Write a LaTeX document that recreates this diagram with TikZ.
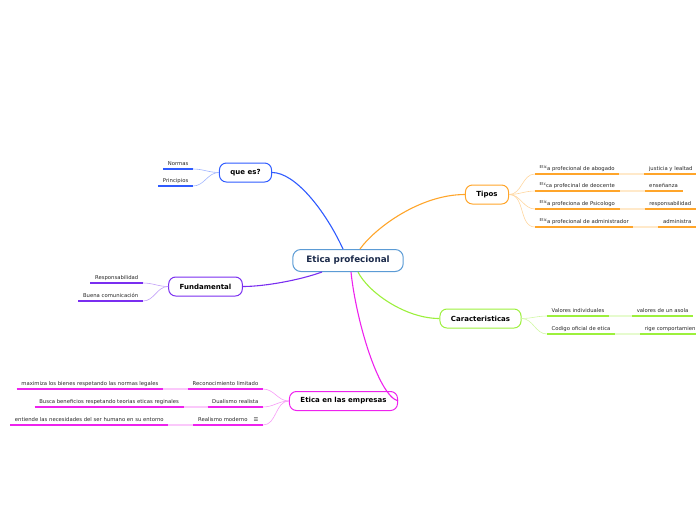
\documentclass[tikz,border=0pt]{standalone}
\usepackage{fontspec}
\setmainfont{DejaVu Sans}
\usepackage{xcolor}
\usetikzlibrary{positioning}

\definecolor{rootline}{HTML}{5B9BD5}
\definecolor{rootink}{HTML}{1B2A4A}
\definecolor{brblue}{HTML}{2F5BFF}
\definecolor{brpurple}{HTML}{7A2EF0}
\definecolor{brorange}{HTML}{FFA52A}
\definecolor{brgreen}{HTML}{9CF03C}
\definecolor{brmagenta}{HTML}{EE22EE}

\newcommand{\upfrag}[1]{\raisebox{1.8pt}{\fontsize{4}{4.5}\selectfont #1}}

\begin{document}
\begin{tikzpicture}[x=1pt, y=-1pt,
    rootbox/.style={rectangle, draw=rootline, line width=1pt, rounded corners=8pt,
                    fill=white, minimum height=22pt, inner xsep=13.5pt,
                    font=\fontsize{8.8}{10}\selectfont\bfseries, text=rootink},
    topic/.style={rectangle, draw=#1, line width=1pt, rounded corners=7pt,
                  fill=white, minimum height=19pt, inner xsep=11pt,
                  font=\fontsize{7}{8}\selectfont\bfseries, text=black},
    leaf/.style={inner xsep=4.5pt, inner ysep=2pt, text height=4pt, text depth=1.5pt,
                 font=\fontsize{5.3}{6.2}\selectfont, text=black!85},
    branch/.style={#1, line width=1.1pt},
    twig/.style={#1!45, line width=0.6pt},
    uline/.style={#1, line width=1.3pt},
    bridge/.style={#1!25, line width=1.3pt}
]
\useasboundingbox (0,0) rectangle (696,520);
\clip (0,0) rectangle (696,520);

% main topics
\node[rootbox] (root) at (348,260.5) {Etica profecional};
\node[topic=brblue]    (qes)  at (245.5,172.5) {que es?};
\node[topic=brpurple]  (fund) at (205.5,286.5) {Fundamental};
\node[topic=brorange]  (tip)  at (487,194.5)   {Tipos};
\node[topic=brgreen]   (car)  at (480.5,318.5) {Caracteristicas};
\node[topic=brmagenta] (emp)  at (343.5,401)   {Etica en las empresas};

% que es? / Fundamental
\node[leaf, anchor=south east] (norm)  at (193,169) {Normas};
\node[leaf, anchor=south east] (prin)  at (193,186) {Principios};
\node[leaf, anchor=south east] (resp)  at (143,283) {Responsabilidad};
\node[leaf, anchor=south east] (buena) at (143,301) {Buena comunicación};

% Tipos
\node[leaf, anchor=south west] (abog) at (535,174) {\upfrag{Etic}a profecional de abogado};
\node[leaf, anchor=south west] (doce) at (535,191) {\upfrag{Etc}ca profecinal de deocente};
\node[leaf, anchor=south west] (psic) at (535,209) {\upfrag{Etic}a profeciona de Psicologo};
\node[leaf, anchor=south west] (admi) at (535,227) {\upfrag{Etic}a profecional de administrador};
\node[leaf, right=25pt of abog] (justi) {justicia y lealtad};
\node[leaf, right=25pt of doce] (ense)  {enseñanza};
\node[leaf, right=25pt of psic] (respo) {responsabilidad};
\node[leaf, right=25pt of admi] (admin) {administra};

% Caracteristicas
\node[leaf, anchor=south west] (vind) at (547,316) {Valores individuales};
\node[leaf, anchor=south west] (codi) at (547,334) {Codigo oficial de etica};
\node[leaf, right=23pt of vind] (asola) {valores de un asola};
\node[leaf, right=25pt of codi] (rige)  {rige comportamien};

% Etica en las empresas
\node[leaf, anchor=south east] (recon) at (263,389) {Reconocimiento limitado};
\node[leaf, anchor=south east] (dual)  at (263,407) {Dualismo realista};
\node[leaf, anchor=south east] (realm) at (263,425) {Realismo moderno\hspace{6pt}☰};
\node[leaf, left=25pt of recon] (maxi)  {maximiza los bienes respetando las normas legales};
\node[leaf, left=24pt of dual]  (busca) {Busca beneficios respetando teorias eticas reginales};
\node[leaf, left=25pt of realm] (entie) {entiende las necesidades del ser humano en su entorno};

% branches from the root
\draw[branch=brblue]    ([xshift=-5pt]root.north) .. controls (325,210) and (295,172.5) .. (qes.east);
\draw[branch=brorange]  ([xshift=12pt]root.north) .. controls (375,228) and (420,194.5) .. (tip.west);
\draw[branch=brpurple]  ([xshift=-26pt]root.south) .. controls (300,280) and (265,286.5) .. (fund.east);
\draw[branch=brgreen]   ([xshift=10pt]root.south) .. controls (368,292) and (405,318.5) .. (car.west);
\draw[branch=brmagenta] ([xshift=3pt]root.south) .. controls (356,320) and (378,395) .. (emp.east);

% twigs
\foreach \p/\k/\c in {qes/norm/brblue, qes/prin/brblue, fund/resp/brpurple, fund/buena/brpurple,
                      emp/recon/brmagenta, emp/dual/brmagenta, emp/realm/brmagenta}
    \draw[twig=\c] (\p.west) to[out=180, in=0] (\k.south east);
\foreach \p/\k/\c in {tip/abog/brorange, tip/doce/brorange, tip/psic/brorange, tip/admi/brorange,
                      car/vind/brgreen, car/codi/brgreen}
    \draw[twig=\c] (\p.east) to[out=0, in=180] (\k.south west);

% bridges between a leaf and the next one
\foreach \l/\r/\c in {abog/justi/brorange, doce/ense/brorange, psic/respo/brorange, admi/admin/brorange,
                      vind/asola/brgreen, codi/rige/brgreen,
                      maxi/recon/brmagenta, busca/dual/brmagenta, entie/realm/brmagenta}
    \draw[bridge=\c] (\l.south east) -- (\r.south west);

% underlines
\foreach \n/\c in {norm/brblue, prin/brblue, resp/brpurple, buena/brpurple,
                   abog/brorange, doce/brorange, psic/brorange, admi/brorange,
                   justi/brorange, ense/brorange, respo/brorange, admin/brorange,
                   vind/brgreen, codi/brgreen, asola/brgreen, rige/brgreen,
                   recon/brmagenta, dual/brmagenta, realm/brmagenta,
                   maxi/brmagenta, busca/brmagenta, entie/brmagenta}
    \draw[uline=\c] (\n.south west) -- (\n.south east);
\end{tikzpicture}
\end{document}
